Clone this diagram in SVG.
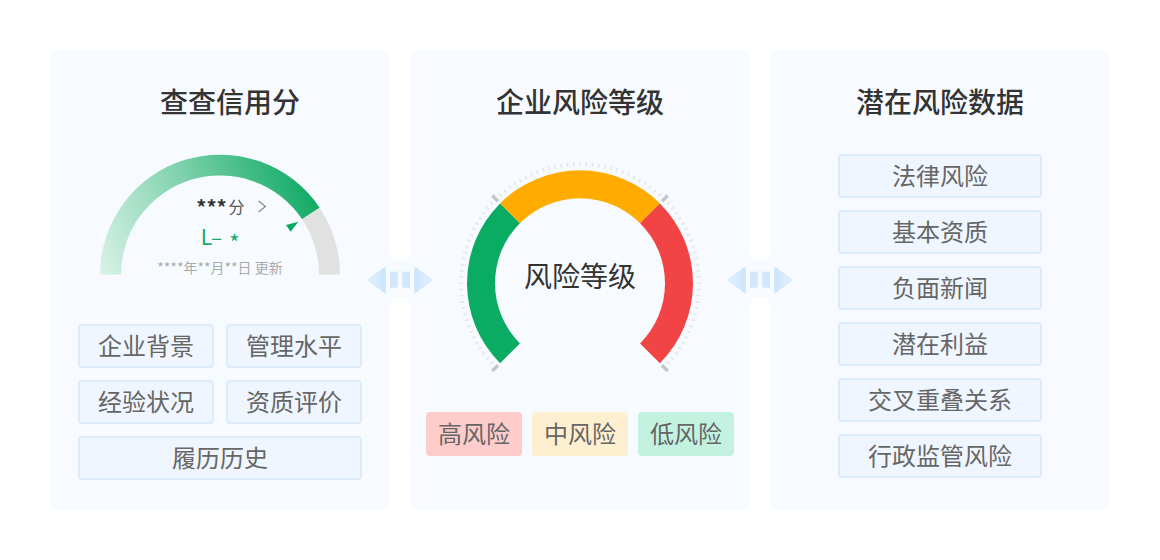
<svg xmlns="http://www.w3.org/2000/svg" width="1160" height="560" viewBox="0 0 1160 560">
<style>
text{font-family:"Noto Sans CJK SC","Liberation Sans",sans-serif;text-anchor:middle}
.panel{fill:#f7fbff}
.title{font-size:28px;font-weight:500;fill:#333}
.tag{fill:#f0f6ff;stroke:#deebfa;stroke-width:2}
.lbl{font-size:24px;fill:#666}
.major{stroke:#c4c8cc;stroke-width:3.5;fill:none}
.minor{stroke:#e3e7eb;stroke-width:4;fill:none;stroke-dasharray:.8 2.2;stroke-dashoffset:.4}
.bar{fill:#d2e7fb}
.gap{fill:#f7fbff}
.notch{fill:#fff}
</style>
<defs>
<linearGradient id="gg" gradientUnits="userSpaceOnUse" x1="100" y1="275" x2="320" y2="190">
<stop offset="0" stop-color="#d9f2e7"/><stop offset=".45" stop-color="#84d3b0"/><stop offset="1" stop-color="#0aa860"/>
</linearGradient>
<linearGradient id="al" x1="0" x2="1" y1="0" y2="0"><stop offset="0" stop-color="#e6f2fd"/><stop offset="1" stop-color="#c9e3fb"/></linearGradient>
<linearGradient id="ar" x1="1" x2="0" y1="0" y2="0"><stop offset="0" stop-color="#e6f2fd"/><stop offset="1" stop-color="#c9e3fb"/></linearGradient>
<g id="arrow">
<rect class="gap" x="-10" y="-25" width="20" height="50"/>
<circle class="notch" cx="0" cy="-30" r="11"/>
<circle class="notch" cx="0" cy="28" r="11"/>
<path d="M-34,0 L-14.3,-13.5 V13.5 Z" fill="url(#al)"/>
<path d="M34,0 L14.3,-13.5 V13.5 Z" fill="url(#ar)"/>
<rect class="bar" x="-10" y="-8.3" width="7.7" height="16"/>
<rect class="bar" x="2.3" y="-8.3" width="7.7" height="16"/>
</g>
</defs>
<rect width="1160" height="560" fill="#fff"/>
<g id="panel-credit">
<rect class="panel" x="50" y="50" width="340" height="460" rx="8"/>
<text class="title" x="230" y="113">查查信用分</text>
<g id="credit-gauge">
<path d="M100,275 A120,120 0 0 1 319.6,208.2 L302.1,219.7 A99,99 0 0 0 121,275 Z" fill="url(#gg)" transform="translate(0,-.5)"/>
<path d="M319.6,208.2 A120,120 0 0 1 340,275 H319 A99,99 0 0 0 302.1,219.7 Z" fill="#e1e1e1" transform="translate(0,-.5)"/>
<path d="M298.3,221.7 L286,225 L290.7,231.7 Z" fill="#0aa860"/>
<text x="211.500" y="215" font-size="20" font-weight="700" fill="#333">***</text>
<text x="236.500" y="212.500" font-size="16" fill="#555">分</text>
<path d="M258.500,201 L265.500,206.500 L258.500,212" fill="none" stroke="#888" stroke-width="1.200"/>
<text y="245" font-size="21" fill="#1aa86e" text-anchor="middle"><tspan x="211.500">L–</tspan><tspan x="234.500" dy="6" font-size="22">*</tspan></text>
<text x="220" y="272.500" font-size="14" fill="#aaa">****年**月**日 更新</text>
</g>
<g id="tag-bg"><rect class="tag" x="79" y="325" width="134" height="42" rx="3"/><text class="lbl" x="146" y="355">企业背景</text></g>
<g id="tag-mgmt"><rect class="tag" x="227" y="325" width="134" height="42" rx="3"/><text class="lbl" x="294" y="355">管理水平</text></g>
<g id="tag-exp"><rect class="tag" x="79" y="381" width="134" height="42" rx="3"/><text class="lbl" x="146" y="411">经验状况</text></g>
<g id="tag-qual"><rect class="tag" x="227" y="381" width="134" height="42" rx="3"/><text class="lbl" x="294" y="411">资质评价</text></g>
<g id="tag-hist"><rect class="tag" x="79" y="437" width="282" height="42" rx="3"/><text class="lbl" x="220" y="467">履历历史</text></g>
</g>
<g id="panel-risk">
<rect class="panel" x="410" y="50" width="340" height="460" rx="8"/>
<text class="title" x="580" y="113">企业风险等级</text>
<g id="risk-gauge">
<path class="minor" pathLength="270" d="M495.85,367.45 A119,119 0 1 1 664.15,367.45"/>
<path class="major" d="M498,201.300 L492.300,195.600 M662,201.300 L667.700,195.600 M498,365.300 L492.300,371 M662,365.300 L667.700,371"/>
<path d="M500.100,363.200 A113,113 0 0 1 500.100,203.400 L519.900,223.200 A85,85 0 0 0 519.900,343.400 Z" fill="#0aab62"/>
<path d="M500.100,203.400 A113,113 0 0 1 659.900,203.400 L640.100,223.200 A85,85 0 0 0 519.900,223.200 Z" fill="#ffab00"/>
<path d="M659.900,203.400 A113,113 0 0 1 659.900,363.200 L640.100,343.400 A85,85 0 0 0 640.100,223.200 Z" fill="#f24444"/>
<text x="580" y="287" font-size="28" fill="#333">风险等级</text>
</g>
<g id="level-high"><rect x="426" y="412" width="96" height="44" rx="4" fill="#ffcccc"/><text class="lbl" x="474" y="443">高风险</text></g>
<g id="level-mid"><rect x="532" y="412" width="96" height="44" rx="4" fill="#ffefd1"/><text class="lbl" x="580" y="443">中风险</text></g>
<g id="level-low"><rect x="638" y="412" width="96" height="44" rx="4" fill="#c3f3e0"/><text class="lbl" x="686" y="443">低风险</text></g>
</g>
<g id="panel-data">
<rect class="panel" x="770" y="50" width="340" height="460" rx="8"/>
<text class="title" x="940" y="113">潜在风险数据</text>
<g id="data-legal"><rect class="tag" x="839" y="155" width="202" height="42" rx="3"/><text class="lbl" x="940" y="185">法律风险</text></g>
<g id="data-basic"><rect class="tag" x="839" y="211" width="202" height="42" rx="3"/><text class="lbl" x="940" y="241">基本资质</text></g>
<g id="data-news"><rect class="tag" x="839" y="267" width="202" height="42" rx="3"/><text class="lbl" x="940" y="297">负面新闻</text></g>
<g id="data-interest"><rect class="tag" x="839" y="323" width="202" height="42" rx="3"/><text class="lbl" x="940" y="353">潜在利益</text></g>
<g id="data-overlap"><rect class="tag" x="839" y="379" width="202" height="42" rx="3"/><text class="lbl" x="940" y="409">交叉重叠关系</text></g>
<g id="data-admin"><rect class="tag" x="839" y="435" width="202" height="42" rx="3"/><text class="lbl" x="940" y="465">行政监管风险</text></g>
</g>
<g id="connectors">
<use href="#arrow" x="400" y="280"/>
<use href="#arrow" x="760" y="280"/>
</g>
</svg>
